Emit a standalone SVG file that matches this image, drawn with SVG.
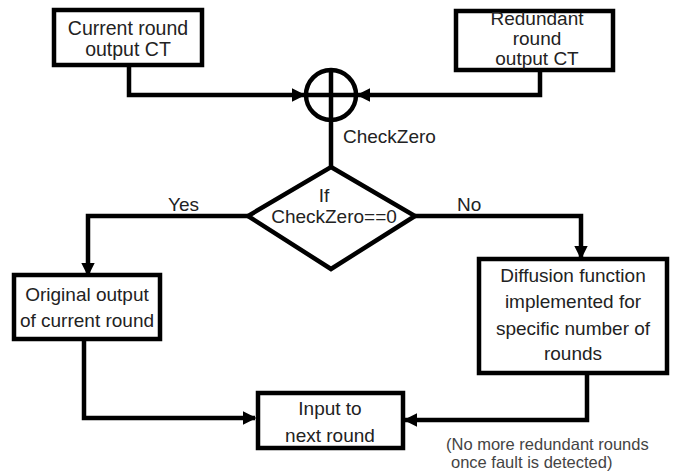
<svg xmlns="http://www.w3.org/2000/svg" width="675" height="474" viewBox="0 0 675 474">
<style>
.box{fill:#fff;stroke:#000;stroke-width:4.5}
.ln{fill:none;stroke:#000;stroke-width:4.5;stroke-linejoin:miter}
.t{font-family:"Liberation Sans",Arial,sans-serif;font-size:19px;fill:#222;text-anchor:middle}
.lbl{font-family:"Liberation Sans",Arial,sans-serif;font-size:19px;fill:#222}
.note{font-family:"Liberation Sans",Arial,sans-serif;font-size:16.5px;fill:#444}
</style>
<defs>
<marker id="ah" viewBox="0 0 10 10" refX="9" refY="5" markerWidth="3" markerHeight="3" orient="auto" markerUnits="strokeWidth">
<path d="M0,0 L10,5 L0,10 z" fill="#000"/>
</marker>
</defs>
<rect width="675" height="474" fill="#fff"/>
<g id="connectors">
<polyline class="ln" points="129,65 129,95 304,95" marker-end="url(#ah)"/>
<polyline class="ln" points="540,70 540,95 358,95" marker-end="url(#ah)"/>
<line class="ln" x1="331" y1="70" x2="331" y2="167"/>
<polyline class="ln" points="248,216 88,216 88,275" marker-end="url(#ah)"/>
<polyline class="ln" points="415,216 581,216 581,258" marker-end="url(#ah)"/>
<polyline class="ln" points="84,340 84,418 255,418" marker-end="url(#ah)"/>
<polyline class="ln" points="587,373 587,420 405,420" marker-end="url(#ah)"/>
</g>
<g id="xor">
<circle cx="331" cy="95" r="25" fill="none" stroke="#000" stroke-width="4.5"/>
<line x1="306" y1="95" x2="356" y2="95" stroke="#000" stroke-width="4.5"/>
</g>
<text class="lbl" x="343" y="143">CheckZero</text>
<g id="current">
<rect class="box" x="54" y="10" width="148" height="55"/>
<text class="t" x="128" y="35" style="font-size:19.5px">Current round</text>
<text class="t" x="128" y="56" style="font-size:19.5px">output CT</text>
</g>
<g id="redundant">
<rect class="box" x="456" y="11" width="157" height="59"/>
<text class="t" x="537" y="25">Redundant</text>
<text class="t" x="537" y="45">round</text>
<text class="t" x="537" y="65">output CT</text>
</g>
<g id="decision">
<polygon class="box" points="331,167 415,216 331,269 248,216"/>
<text class="t" x="324" y="202">If</text>
<text class="t" x="334" y="223">CheckZero==0</text>
</g>
<text class="lbl" x="168" y="211">Yes</text>
<text class="lbl" x="457" y="211">No</text>
<g id="original">
<rect class="box" x="14" y="275" width="146" height="64"/>
<text class="t" x="87" y="301">Original output</text>
<text class="t" x="87" y="327">of current round</text>
</g>
<g id="diffusion">
<rect class="box" x="479" y="259" width="188" height="114"/>
<text class="t" x="573" y="282">Diffusion function</text>
<text class="t" x="573" y="308">implemented for</text>
<text class="t" x="573" y="335">specific number of</text>
<text class="t" x="573" y="360">rounds</text>
</g>
<g id="input">
<rect class="box" x="258" y="393" width="145" height="55"/>
<text class="t" x="330" y="415">Input to</text>
<text class="t" x="330" y="442">next round</text>
</g>
<text class="note" x="446" y="450">(No more redundant rounds</text>
<text class="note" x="451" y="468">once fault is detected)</text>
</svg>
